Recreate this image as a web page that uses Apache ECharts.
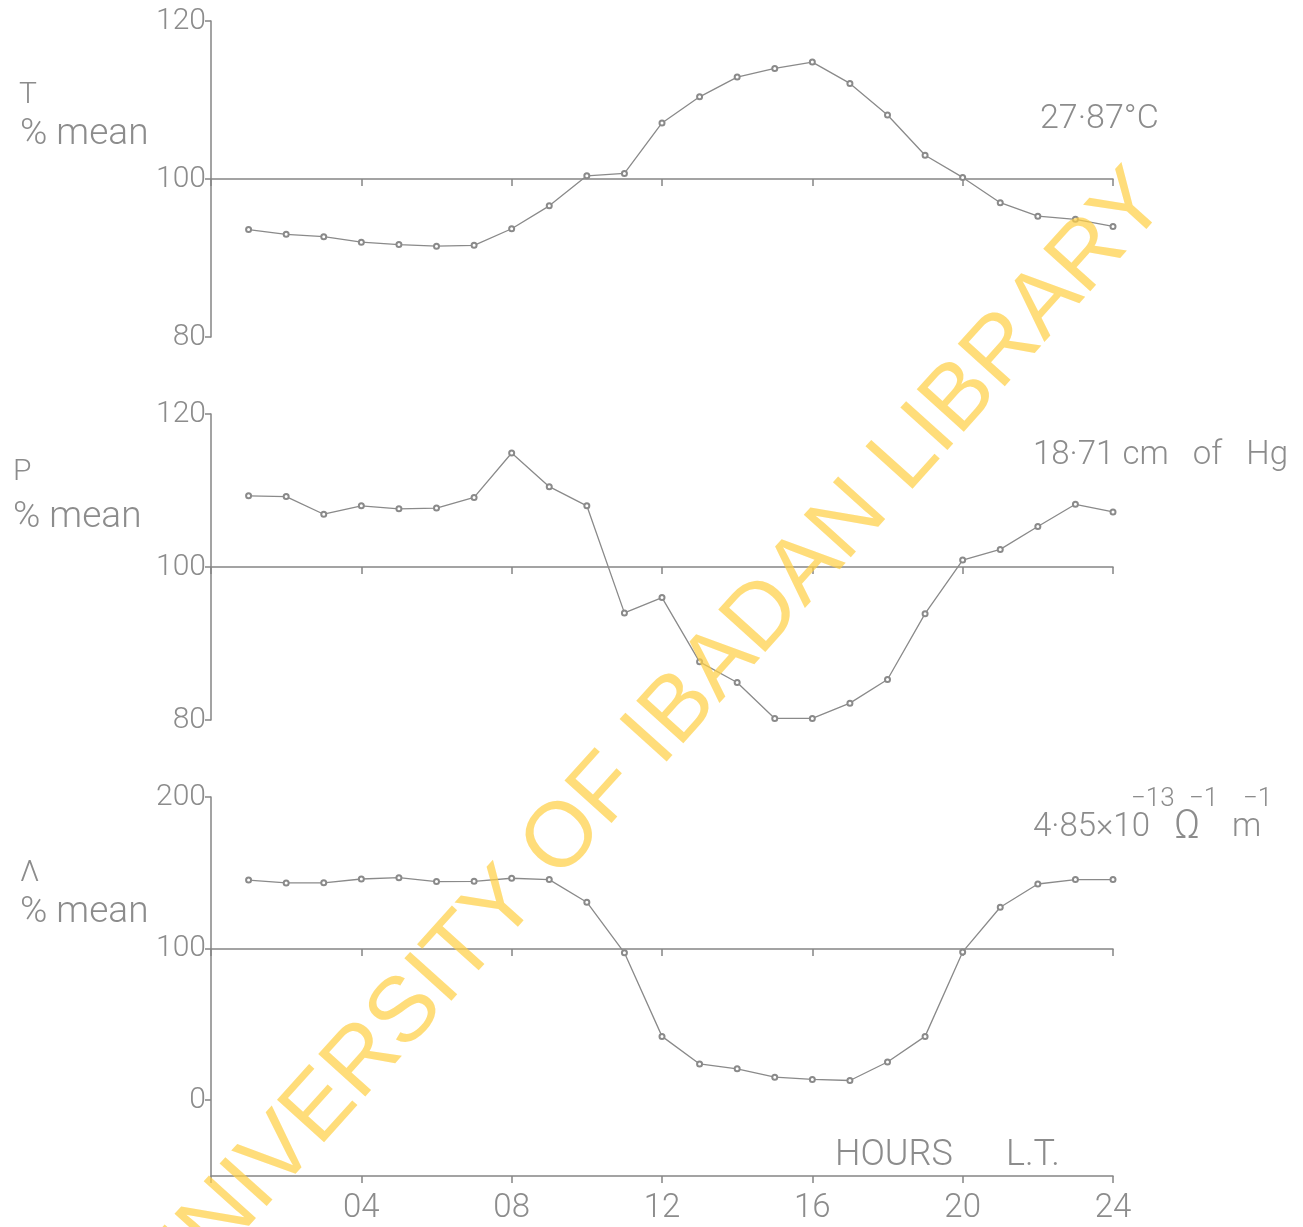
<!DOCTYPE html>
<html>
<head>
<meta charset="utf-8">
<script src="https://cdn.jsdelivr.net/npm/echarts@6/dist/echarts.min.js"></script>
<style>
html,body{margin:0;padding:0;background:#fff;}
#c{width:1303px;height:1227px;}
</style>
</head>
<body>
<div id="c"></div>
<script>
// Hours (local time)
var hours = [1,2,3,4,5,6,7,8,9,10,11,12,13,14,15,16,17,18,19,20,21,22,23,24];
// Temperature, % of mean (mean 27.87 °C)
var tempPct = [93.6,93.0,92.7,92.0,91.7,91.5,91.6,93.7,96.6,100.4,100.7,107.1,110.4,112.9,114.0,114.8,112.1,108.1,103.0,100.2,97.0,95.3,94.9,94.0];
// Pressure, % of mean (mean 18.71 cm of Hg)
var presPct = [109.3,109.2,106.9,108.0,107.6,107.7,109.1,114.9,110.5,108.0,94.0,96.0,87.6,84.9,80.2,80.2,82.2,85.3,93.9,100.9,102.3,105.3,108.2,107.2];
// Conductivity, % of mean (mean 4.85e-13 ohm^-1 m^-1)
var condPct = [145.2,143.3,143.4,145.9,146.8,144.2,144.4,146.4,145.5,130.6,97.2,42.1,23.9,20.7,15.2,13.7,13.0,25.2,42.1,97.8,127.3,142.6,145.5,145.5];
// Axis tick labels
var hourTicks = ['04','08','12','16','20','24'];
var condTicks = [0,100,200];

var FONT = 'Roboto';
var TXT = '#8c8c8c';
var LINE = '#8a8a8a';
var AX = '#858585';

function pair(arr){ return hours.map(function(h,i){ return [h, arr[i]]; }); }

var chart = echarts.init(document.getElementById('c'), null, {renderer:'canvas'});

function refX(grid, offset){
  return {
    gridIndex: grid, type:'value', min:0, max:24, interval:4, position:'bottom', offset: offset,
    axisLine:{show:true, onZero:false, lineStyle:{color:AX, width:1.5}},
    axisTick:{show:true, length:7, inside:false, lineStyle:{color:AX, width:1.5}},
    axisLabel:{show:false}, splitLine:{show:false}
  };
}
function yAx(grid, min, max, interval){
  return {
    gridIndex: grid, type:'value', min:min, max:max, interval:interval,
    axisLine:{show:true, lineStyle:{color:AX, width:1.5}},
    axisTick:{show:true, length:6, inside:false, lineStyle:{color:AX, width:1.5}},
    axisLabel:{show:true, color:TXT, fontFamily:FONT, fontWeight:300, fontSize:30, margin:5},
    splitLine:{show:false}
  };
}
function ser(xi, yi, arr){
  return {
    type:'line', xAxisIndex:xi, yAxisIndex:yi, data:pair(arr),
    symbol:'emptyCircle', symbolSize:5, showSymbol:true,
    lineStyle:{color:LINE, width:1.3},
    itemStyle:{color:LINE, borderColor:LINE, borderWidth:1},
    animation:false, silent:true
  };
}

var condY = yAx(2, -50, 200, 50);
condY.axisLabel.customValues = condTicks;
condY.axisTick.customValues = condTicks;

var bottomX = refX(2, 0);
bottomX.axisLabel = {show:true, color:TXT, fontFamily:FONT, fontWeight:300, fontSize:33, margin:16,
  formatter:function(v){ var i = v/4 - 1; return i >= 0 && i < hourTicks.length ? hourTicks[i] : ''; }};

function t(x, yc, s, size){
  return {type:'text', x:x, y:yc, z:50, silent:true,
    style:{text:s, fill:TXT, font:'300 ' + size + 'px Roboto', textAlign:'left', textVerticalAlign:'middle'}};
}

var option = {
  backgroundColor:'#fff',
  animation:false,
  grid:[
    {left:211, top:21, width:902, height:316},
    {left:211, top:414, width:902, height:306},
    {left:211, top:797, width:902, height:379}
  ],
  xAxis:[ refX(0, -158), refX(1, -153), refX(2, -227), bottomX ],
  yAxis:[ yAx(0, 80, 120, 20), yAx(1, 80, 120, 20), condY ],
  series:[ ser(0,0,tempPct), ser(1,1,presPct), ser(2,2,condPct) ],
  graphic:[
    t(19, 95, 'T', 30),
    t(20, 135, '% mean', 37),
    t(13, 472, 'P', 30),
    t(13, 518, '% mean', 37),
    t(20, 873, 'Λ', 30),
    t(20, 913, '% mean', 37),
    t(1040, 119, '27·87°C', 34),
    t(1033, 456, '18·71 cm   of   Hg', 33),
    t(1131, 799, '−13', 26),
    t(1189, 799, '−1', 26),
    t(1243, 799, '−1', 26),
    t(1033, 828, '4·85×10', 33),
    t(1174, 828, 'Ω', 40),
    t(1232, 828, 'm', 33),
    t(835, 1156, 'HOURS', 36),
    t(1006, 1156, 'L.T.', 36),
    {type:'text', x:652, y:740, rotation:48*Math.PI/180, z:100, silent:true,
      style:{text:'UNIVERSITY OF IBADAN LIBRARY', fill:'rgba(255,208,70,0.72)',
        font:'400 92px "Liberation Sans"', textAlign:'center', textVerticalAlign:'middle'}}
  ]
};
chart.setOption(option);
</script>
</body>
</html>
